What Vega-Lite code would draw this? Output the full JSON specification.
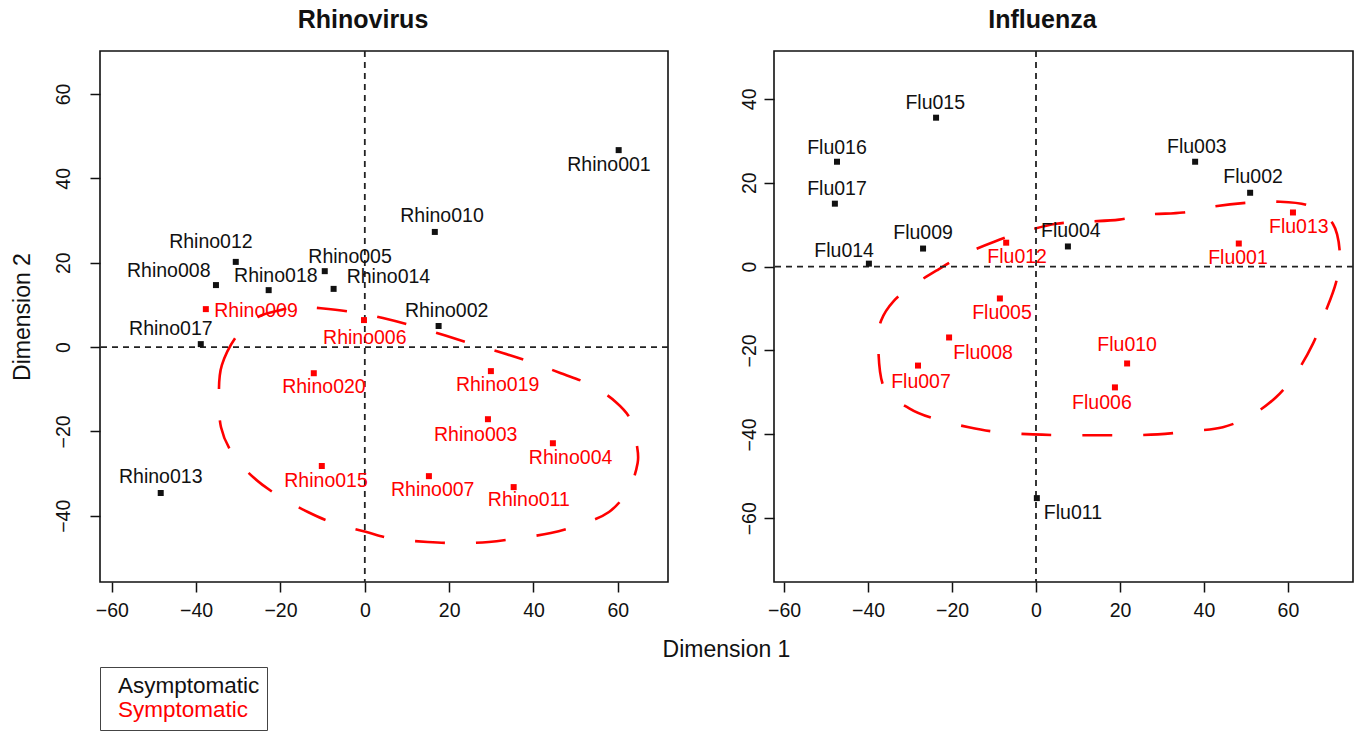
{
  "$schema": "https://vega.github.io/schema/vega-lite/v6.json",
  "background": "white",
  "padding": {"left": 10, "top": 7, "right": 0, "bottom": 0},
  "bounds": "flush",
  "spacing": 106,
  "config": {
    "view": {"stroke": "#111111", "strokeWidth": 1.6},
    "font": "Liberation Sans",
    "axis": {"domain": false, "grid": false, "ticks": true, "tickSize": 10, "tickColor": "#111111", "tickWidth": 1.5, "labelFont": "Liberation Sans", "labelFontSize": 19.5, "labelColor": "#111111", "titleFont": "Liberation Sans", "titleFontSize": 23, "titleFontWeight": "normal", "titleColor": "#111111"},
    "title": {"font": "Liberation Sans", "fontSize": 25, "fontWeight": "bold", "color": "#111111", "anchor": "middle", "dx": -21, "offset": 17, "baseline": "alphabetic"}
  },
  "datasets": {
    "rhino": [
      {"name": "Rhino001", "status": "Asymptomatic", "x": 60.2, "y": 46.7, "lx": 57.9, "ly": 43.2},
      {"name": "Rhino010", "status": "Asymptomatic", "x": 16.6, "y": 27.3, "lx": 18.3, "ly": 31.1},
      {"name": "Rhino012", "status": "Asymptomatic", "x": -30.6, "y": 20.2, "lx": -36.5, "ly": 24.9},
      {"name": "Rhino008", "status": "Asymptomatic", "x": -35.3, "y": 14.7, "lx": -46.5, "ly": 18.0},
      {"name": "Rhino018", "status": "Asymptomatic", "x": -22.8, "y": 13.5, "lx": -21.1, "ly": 16.8},
      {"name": "Rhino005", "status": "Asymptomatic", "x": -9.5, "y": 18.0, "lx": -3.5, "ly": 21.3},
      {"name": "Rhino014", "status": "Asymptomatic", "x": -7.4, "y": 13.8, "lx": 5.6, "ly": 16.6},
      {"name": "Rhino009", "status": "Symptomatic", "x": -37.7, "y": 9.0, "lx": -25.8, "ly": 8.5},
      {"name": "Rhino002", "status": "Asymptomatic", "x": 17.5, "y": 5.0, "lx": 19.4, "ly": 8.5},
      {"name": "Rhino017", "status": "Asymptomatic", "x": -38.9, "y": 0.7, "lx": -46.0, "ly": 4.3},
      {"name": "Rhino006", "status": "Symptomatic", "x": -0.2, "y": 6.4, "lx": 0.0, "ly": 2.1},
      {"name": "Rhino020", "status": "Symptomatic", "x": -12.1, "y": -6.2, "lx": -9.7, "ly": -9.5},
      {"name": "Rhino019", "status": "Symptomatic", "x": 29.9, "y": -5.7, "lx": 31.5, "ly": -9.0},
      {"name": "Rhino003", "status": "Symptomatic", "x": 29.2, "y": -17.1, "lx": 26.3, "ly": -20.9},
      {"name": "Rhino004", "status": "Symptomatic", "x": 44.6, "y": -22.8, "lx": 48.8, "ly": -26.3},
      {"name": "Rhino015", "status": "Symptomatic", "x": -10.2, "y": -28.2, "lx": -9.2, "ly": -31.8},
      {"name": "Rhino007", "status": "Symptomatic", "x": 15.2, "y": -30.6, "lx": 16.1, "ly": -33.9},
      {"name": "Rhino011", "status": "Symptomatic", "x": 35.3, "y": -33.2, "lx": 38.9, "ly": -36.3},
      {"name": "Rhino013", "status": "Asymptomatic", "x": -48.4, "y": -34.6, "lx": -48.4, "ly": -30.8}
    ],
    "flu": [
      {"name": "Flu015", "status": "Asymptomatic", "x": -23.8, "y": 35.5, "lx": -24.0, "ly": 38.9},
      {"name": "Flu016", "status": "Asymptomatic", "x": -47.4, "y": 25.0, "lx": -47.4, "ly": 28.3},
      {"name": "Flu017", "status": "Asymptomatic", "x": -47.9, "y": 15.0, "lx": -47.4, "ly": 18.6},
      {"name": "Flu009", "status": "Asymptomatic", "x": -26.9, "y": 4.3, "lx": -26.9, "ly": 7.9},
      {"name": "Flu014", "status": "Asymptomatic", "x": -39.8, "y": 0.7, "lx": -45.7, "ly": 3.8},
      {"name": "Flu012", "status": "Symptomatic", "x": -7.1, "y": 5.7, "lx": -4.5, "ly": 2.4},
      {"name": "Flu004", "status": "Asymptomatic", "x": 7.6, "y": 4.8, "lx": 8.3, "ly": 8.6},
      {"name": "Flu001", "status": "Symptomatic", "x": 48.3, "y": 5.5, "lx": 48.1, "ly": 2.1},
      {"name": "Flu013", "status": "Symptomatic", "x": 61.2, "y": 12.9, "lx": 62.6, "ly": 9.5},
      {"name": "Flu002", "status": "Asymptomatic", "x": 51.0, "y": 17.6, "lx": 51.7, "ly": 21.4},
      {"name": "Flu003", "status": "Asymptomatic", "x": 37.9, "y": 25.0, "lx": 38.3, "ly": 28.6},
      {"name": "Flu005", "status": "Symptomatic", "x": -8.6, "y": -7.6, "lx": -8.1, "ly": -11.0},
      {"name": "Flu008", "status": "Symptomatic", "x": -20.7, "y": -16.9, "lx": -12.6, "ly": -20.5},
      {"name": "Flu007", "status": "Symptomatic", "x": -28.1, "y": -23.6, "lx": -27.4, "ly": -27.4},
      {"name": "Flu010", "status": "Symptomatic", "x": 21.7, "y": -23.1, "lx": 21.7, "ly": -18.8},
      {"name": "Flu006", "status": "Symptomatic", "x": 18.8, "y": -28.8, "lx": 15.7, "ly": -32.6},
      {"name": "Flu011", "status": "Asymptomatic", "x": 0.2, "y": -55.2, "lx": 8.8, "ly": -58.8}
    ],
    "rhinoEll": [
      {"o": 1, "ex": -34.6, "ey": -10.9}, {"o": 2, "ex": -33.9, "ey": -4.3}, {"o": 3, "ex": -30.4, "ey": 2.6},
      {"o": 4, "ex": -25.4, "ey": 7.1}, {"o": 5, "ex": -19.9, "ey": 8.8}, {"o": 6, "ex": -15.2, "ey": 9.5},
      {"o": 7, "ex": -10.4, "ey": 9.2}, {"o": 8, "ex": -2.8, "ey": 8.3}, {"o": 9, "ex": 4.3, "ey": 6.9},
      {"o": 10, "ex": 13.3, "ey": 4.5}, {"o": 11, "ex": 25.6, "ey": 0.7}, {"o": 12, "ex": 32.7, "ey": -1.4},
      {"o": 13, "ex": 40.1, "ey": -3.8}, {"o": 14, "ex": 46.5, "ey": -6.2}, {"o": 15, "ex": 53.6, "ey": -9.0},
      {"o": 16, "ex": 59.5, "ey": -13.0}, {"o": 17, "ex": 63.1, "ey": -17.3}, {"o": 18, "ex": 64.5, "ey": -23.2},
      {"o": 19, "ex": 64.7, "ey": -27.5}, {"o": 20, "ex": 62.6, "ey": -33.7}, {"o": 21, "ex": 57.9, "ey": -39.1},
      {"o": 22, "ex": 50.8, "ey": -42.2}, {"o": 23, "ex": 44.1, "ey": -44.1}, {"o": 24, "ex": 36.5, "ey": -45.3},
      {"o": 25, "ex": 29.4, "ey": -46.2}, {"o": 26, "ex": 22.1, "ey": -46.5}, {"o": 27, "ex": 14.9, "ey": -46.2},
      {"o": 28, "ex": 6.9, "ey": -45.5}, {"o": 29, "ex": 0.2, "ey": -43.8}, {"o": 30, "ex": -7.4, "ey": -41.7},
      {"o": 31, "ex": -13.5, "ey": -39.1}, {"o": 32, "ex": -20.4, "ey": -35.3}, {"o": 33, "ex": -26.3, "ey": -31.0},
      {"o": 34, "ex": -31.3, "ey": -25.4}, {"o": 35, "ex": -34.1, "ey": -19.0}
    ],
    "fluEll": [
      {"o": 1, "ex": -37.6, "ey": -18.3}, {"o": 2, "ex": -36.9, "ey": -12.9}, {"o": 3, "ex": -33.8, "ey": -8.1},
      {"o": 4, "ex": -29.3, "ey": -4.5}, {"o": 5, "ex": -23.3, "ey": -0.7}, {"o": 6, "ex": -17.1, "ey": 2.9},
      {"o": 7, "ex": -9.8, "ey": 6.0}, {"o": 8, "ex": -2.9, "ey": 8.3}, {"o": 9, "ex": 4.8, "ey": 10.2},
      {"o": 10, "ex": 11.9, "ey": 10.7}, {"o": 11, "ex": 19.8, "ey": 11.2}, {"o": 12, "ex": 26.9, "ey": 12.4},
      {"o": 13, "ex": 35.0, "ey": 12.9}, {"o": 14, "ex": 42.1, "ey": 14.3}, {"o": 15, "ex": 50.0, "ey": 15.2},
      {"o": 16, "ex": 57.1, "ey": 15.5}, {"o": 17, "ex": 65.0, "ey": 14.5}, {"o": 18, "ex": 70.7, "ey": 10.2},
      {"o": 19, "ex": 72.4, "ey": 2.6}, {"o": 20, "ex": 71.4, "ey": -4.0}, {"o": 21, "ex": 68.6, "ey": -11.7},
      {"o": 22, "ex": 66.0, "ey": -18.3}, {"o": 23, "ex": 61.9, "ey": -25.5}, {"o": 24, "ex": 57.1, "ey": -31.2},
      {"o": 25, "ex": 51.2, "ey": -35.5}, {"o": 26, "ex": 44.5, "ey": -38.3}, {"o": 27, "ex": 36.4, "ey": -39.3},
      {"o": 28, "ex": 29.0, "ey": -40.0}, {"o": 29, "ex": 21.4, "ey": -40.2}, {"o": 30, "ex": 14.3, "ey": -40.2},
      {"o": 31, "ex": 6.4, "ey": -40.2}, {"o": 32, "ex": -0.7, "ey": -40.0}, {"o": 33, "ex": -8.8, "ey": -39.5},
      {"o": 34, "ex": -16.0, "ey": -38.3}, {"o": 35, "ex": -23.8, "ey": -36.4}, {"o": 36, "ex": -30.2, "ey": -33.8},
      {"o": 37, "ex": -36.2, "ey": -28.8}
    ]
  },
  "hconcat": [
    {
      "title": {"text": "Rhinovirus"},
      "width": 568,
      "height": 531,
      "layer": [
        {
          "data": {"name": "rhinoEll"},
          "mark": {"type": "line", "interpolate": "cardinal-closed", "color": "#ff0000", "strokeWidth": 2.6, "strokeDash": [30, 31]},
          "encoding": {
            "x": {"field": "ex", "type": "quantitative", "scale": {"domain": [-62.8, 71.9], "nice": false, "zero": false},
                  "axis": {"values": [-60, -40, -20, 0, 20, 40, 60], "title": "Dimension 1", "titleX": 626, "titleY": 74, "titleAlign": "center", "titleBaseline": "alphabetic", "labelFlush": false, "labelPadding": 9}},
            "y": {"field": "ey", "type": "quantitative", "scale": {"domain": [-55.7, 70.2], "nice": false, "zero": false},
                  "axis": {"values": [-40, -20, 0, 20, 40, 60], "title": "Dimension 2", "titleX": -71, "titleY": 265.5, "titleAngle": 270, "titleAlign": "center", "titleBaseline": "alphabetic", "labelAngle": 270, "labelAlign": "center", "labelBaseline": "alphabetic", "labelPadding": 21, "labelFlush": false}},
            "order": {"field": "o", "type": "quantitative"}
          }
        },
        {
          "data": {"values": [{}]},
          "mark": {"type": "rule", "strokeDash": [6, 5], "color": "#222222", "strokeWidth": 1.8},
          "encoding": {"x": {"datum": 0}}
        },
        {
          "data": {"values": [{}]},
          "mark": {"type": "rule", "strokeDash": [6, 5], "color": "#222222", "strokeWidth": 1.8},
          "encoding": {"y": {"datum": 0}}
        },
        {
          "data": {"name": "rhino"},
          "mark": {"type": "square", "size": 36, "opacity": 1},
          "encoding": {
            "x": {"field": "x", "type": "quantitative"},
            "y": {"field": "y", "type": "quantitative"},
            "color": {"field": "status", "type": "nominal", "scale": {"domain": ["Asymptomatic", "Symptomatic"], "range": ["#111111", "#ff0000"]},
                      "legend": {"orient": "none", "legendX": 0, "legendY": 616, "title": null, "strokeColor": "#444444", "fillColor": "white", "padding": 7.5, "symbolSize": 1, "symbolOpacity": 0, "symbolType": "square", "labelOffset": -12, "labelFontSize": 22.5, "labelFont": "Liberation Sans", "rowPadding": 1.5, "labelLimit": 400, "labelExpr": "datum.label + '\u00a0\u00a0\u00a0'",
                                 "encode": {"labels": {"update": {"fill": {"signal": "datum.value === 'Symptomatic' ? '#ff0000' : '#111111'"}}}}}}
          }
        },
        {
          "data": {"name": "rhino"},
          "mark": {"type": "text", "fontSize": 19.5, "font": "Liberation Sans", "align": "center", "baseline": "middle"},
          "encoding": {
            "x": {"field": "lx", "type": "quantitative"},
            "y": {"field": "ly", "type": "quantitative"},
            "text": {"field": "name"},
            "color": {"field": "status", "type": "nominal"}
          }
        }
      ]
    },
    {
      "title": {"text": "Influenza"},
      "width": 579,
      "height": 531,
      "layer": [
        {
          "data": {"name": "fluEll"},
          "mark": {"type": "line", "interpolate": "cardinal-closed", "color": "#ff0000", "strokeWidth": 2.6, "strokeDash": [30, 31]},
          "encoding": {
            "x": {"field": "ex", "type": "quantitative", "scale": {"domain": [-62.4, 75.5], "nice": false, "zero": false},
                  "axis": {"values": [-60, -40, -20, 0, 20, 40, 60], "title": null, "labelFlush": false, "labelPadding": 9}},
            "y": {"field": "ey", "type": "quantitative", "scale": {"domain": [-75.2, 51.4], "nice": false, "zero": false},
                  "axis": {"values": [-60, -40, -20, 0, 20, 40], "title": null, "labelAngle": 270, "labelAlign": "center", "labelBaseline": "alphabetic", "labelPadding": 9, "labelFlush": false}},
            "order": {"field": "o", "type": "quantitative"}
          }
        },
        {
          "data": {"values": [{}]},
          "mark": {"type": "rule", "strokeDash": [6, 5], "color": "#222222", "strokeWidth": 1.8},
          "encoding": {"x": {"datum": 0}}
        },
        {
          "data": {"values": [{}]},
          "mark": {"type": "rule", "strokeDash": [6, 5], "color": "#222222", "strokeWidth": 1.8},
          "encoding": {"y": {"datum": 0}}
        },
        {
          "data": {"name": "flu"},
          "mark": {"type": "square", "size": 36, "opacity": 1},
          "encoding": {
            "x": {"field": "x", "type": "quantitative"},
            "y": {"field": "y", "type": "quantitative"},
            "color": {"field": "status", "type": "nominal"}
          }
        },
        {
          "data": {"name": "flu"},
          "mark": {"type": "text", "fontSize": 19.5, "font": "Liberation Sans", "align": "center", "baseline": "middle"},
          "encoding": {
            "x": {"field": "lx", "type": "quantitative"},
            "y": {"field": "ly", "type": "quantitative"},
            "text": {"field": "name"},
            "color": {"field": "status", "type": "nominal"}
          }
        }
      ]
    }
  ]
}
